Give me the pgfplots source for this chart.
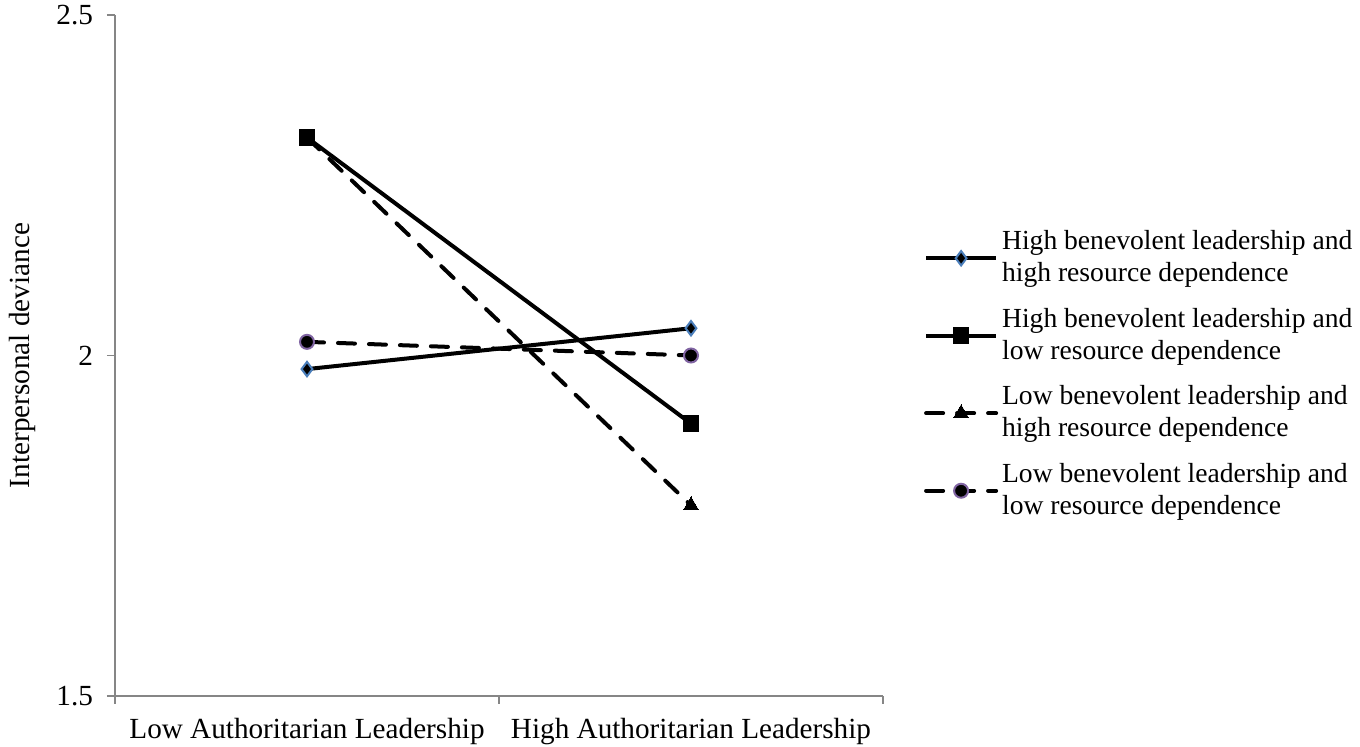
\documentclass[border=0pt]{standalone}
\usepackage{pgfplots}
\pgfplotsset{compat=1.18}
\usepackage{fontspec}
\setmainfont{Liberation Serif}
\definecolor{axgray}{HTML}{868686}
\definecolor{mblue}{HTML}{4A7EBB}
\definecolor{mpurple}{HTML}{8064A2}
\begin{document}
\fontsize{14.5pt}{16pt}\selectfont
\begin{tikzpicture}
\path[use as bounding box] (0,0) rectangle (680pt,373.5pt);
\begin{axis}[
  at={(57.5pt,25.5pt)}, anchor=south west,
  width=384pt, height=340.5pt, scale only axis,
  xmin=0, xmax=2, ymin=1.5, ymax=2.5,
  axis lines*=left,
  axis line style={axgray, line width=0.8pt},
  every tick/.style={axgray, line width=0.8pt},
  tick align=outside, major tick length=4pt,
  xtick={0,1,2}, xticklabels={},
  extra x ticks={0.5,1.5},
  extra x tick labels={Low Authoritarian Leadership, High Authoritarian Leadership},
  extra x tick style={major tick length=0pt, tick style={draw=none}},
  ytick={1.5,2,2.5},
  yticklabels={1.5,2,2.5},
  yticklabel style={xshift=-2pt},
  xticklabel style={yshift=-6pt},
  tick label style={font=\fontsize{14.6pt}{16pt}\selectfont},
  /pgf/number format/assume math mode=true,
  ylabel={Interpersonal deviance},
  every axis y label/.style={at={(axis description cs:-0.121,0.5)}, rotate=90, anchor=center, font=\fontsize{14.6pt}{16pt}\selectfont},
  clip=false,
  legend cell align=left,
  legend style={draw=none, fill=none, at={(axis description cs:1.053,0.69)}, anchor=north west,
    font=\fontsize{13.8pt}{16pt}\selectfont, cells={align=left},
    row sep=7pt, inner sep=0pt},
  legend image code/.code={\draw[mark repeat=2, mark phase=2, #1] plot coordinates {(0pt,0pt) (17.5pt,0pt) (35pt,0pt)};},
]
\addplot[black, line width=2pt, mark=diamond*, mark size=3.6pt,
  mark options={solid, fill=black, draw=mblue, line width=1pt}]
  coordinates {(0.5,1.98) (1.5,2.04)};
\addlegendentry{High benevolent leadership and\\high resource dependence}
\addplot[black, line width=2pt, mark=square*, mark size=3.9pt,
  mark options={solid, fill=black, draw=black, line width=0pt}]
  coordinates {(0.5,2.32) (1.5,1.90)};
\addlegendentry{High benevolent leadership and\\low resource dependence}
\addplot[black, line width=2pt, dash pattern=on 8.5pt off 7pt, line cap=round, mark=triangle*, mark size=4.2pt,
  mark options={solid, fill=black, draw=black, line width=0pt}]
  coordinates {(0.5,2.32) (1.5,1.78)};
\addlegendentry{Low benevolent leadership and\\high resource dependence}
\addplot[black, line width=2pt, dash pattern=on 8.5pt off 7pt, line cap=round, mark=*, mark size=3.5pt,
  mark options={solid, fill=black, draw=mpurple, line width=1pt}]
  coordinates {(0.5,2.02) (1.5,2.00)};
\addlegendentry{Low benevolent leadership and\\low resource dependence}
\end{axis}
\end{tikzpicture}
\end{document}
